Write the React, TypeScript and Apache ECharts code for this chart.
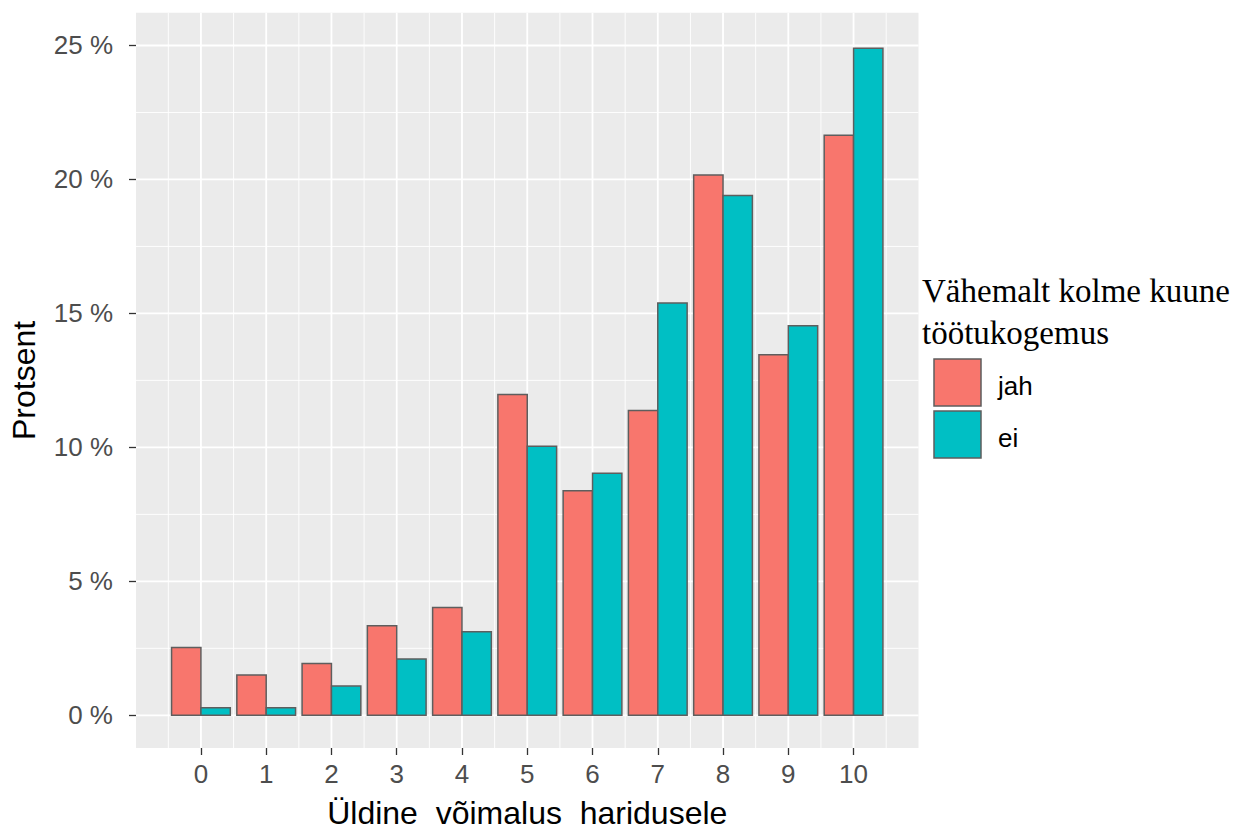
import React, { useEffect, useRef } from "react";
import * as echarts from "echarts";

const categories = [0, 1, 2, 3, 4, 5, 6, 7, 8, 9, 10];
const jah = [2.53, 1.5, 1.93, 3.34, 4.02, 11.97, 8.38, 11.38, 20.17, 13.46, 21.65];
const ei = [0.28, 0.28, 1.09, 2.1, 3.12, 10.04, 9.03, 15.39, 19.4, 14.54, 24.9];
const yTicks = [0, 5, 10, 15, 20, 25];
const yMinor = [2.5, 7.5, 12.5, 17.5, 22.5];
const xMinor = [-0.5, 0.5, 1.5, 2.5, 3.5, 4.5, 5.5, 6.5, 7.5, 8.5, 9.5, 10.5];
const seriesNames = ["jah", "ei"];
const colors = ["#F8766D", "#00BFC4"];
const legendTitle = ["Vähemalt kolme kuune", "töötukogemus"];

const X_MIN = -0.995;
const X_MAX = 10.995;
const Y_MIN = -1.22;
const Y_MAX = 26.22;

export default function App() {
  const ref = useRef<HTMLDivElement>(null);
  useEffect(() => {
    const chart = echarts.init(ref.current!, null, { renderer: "svg" });

    const gridData: number[][] = [];
    categories.forEach((c) => gridData.push([c, 0, 1]));
    xMinor.forEach((c) => gridData.push([c, 0, 0]));
    yTicks.forEach((v) => gridData.push([v, 1, 1]));
    yMinor.forEach((v) => gridData.push([v, 1, 0]));

    const gridSeries = {
      type: "custom",
      silent: true,
      z: 1,
      data: gridData,
      renderItem: (params: any, api: any) => {
        const v = api.value(0);
        const orient = api.value(1);
        const major = api.value(2);
        const cs = params.coordSys;
        let shape;
        if (orient === 0) {
          const p = api.coord([v, 0]);
          shape = { x1: p[0], y1: cs.y, x2: p[0], y2: cs.y + cs.height };
        } else {
          const p = api.coord([0, v]);
          shape = { x1: cs.x, y1: p[1], x2: cs.x + cs.width, y2: p[1] };
        }
        return {
          type: "line",
          shape,
          style: { stroke: "#FFFFFF", lineWidth: major ? 1.8 : 0.9 },
        };
      },
    };

    const barSeries = [jah, ei].map((vals, si) => ({
      type: "custom",
      name: seriesNames[si],
      z: 2,
      data: categories.map((c, i) => [c, vals[i]]),
      renderItem: (params: any, api: any) => {
        const xv = api.value(0);
        const yv = api.value(1);
        const off = si === 0 ? -0.45 : 0;
        const p0 = api.coord([xv + off, 0]);
        const p1 = api.coord([xv + off + 0.45, yv]);
        return {
          type: "rect",
          shape: { x: p0[0], y: p1[1], width: p1[0] - p0[0], height: p0[1] - p1[1] },
          style: { fill: colors[si], stroke: "#5E5E5E", lineWidth: 1.5 },
        };
      },
    }));

    const legendGraphics: any[] = [
      {
        type: "text",
        left: 922,
        top: 270,
        style: {
          text: legendTitle.join("\n"),
          font: '33px "Liberation Serif"',
          fill: "#000000",
          lineHeight: 42,
        },
      },
    ];
    seriesNames.forEach((n, i) => {
      legendGraphics.push({
        type: "rect",
        shape: { x: 934, y: 359 + i * 52, width: 47, height: 47 },
        style: { fill: colors[i], stroke: "#5E5E5E", lineWidth: 1.5 },
      });
      legendGraphics.push({
        type: "text",
        x: 998,
        y: 386 + i * 52,
        style: {
          text: n,
          font: '26px "Liberation Sans"',
          fill: "#000000",
          verticalAlign: "middle",
        },
      });
    });

    const tickStyle = { color: "#333333", width: 1.3 };

    chart.setOption({
      animation: false,
      backgroundColor: "#FFFFFF",
      grid: {
        left: 135.5,
        top: 12.8,
        width: 783,
        height: 740.1,
        show: true,
        backgroundColor: "#EBEBEB",
        borderWidth: 0,
      },
      xAxis: {
        type: "value",
        min: X_MIN,
        max: X_MAX,
        splitLine: { show: false },
        axisLine: { show: false, onZero: false },
        axisTick: {
          show: true,
          customValues: categories,
          length: 7,
          lineStyle: tickStyle,
        },
        axisLabel: {
          customValues: categories,
          fontSize: 26,
          fontFamily: "Liberation Sans",
          color: "#4D4D4D",
          margin: 13,
        },
        name: "Üldine  võimalus  haridusele",
        nameLocation: "middle",
        nameGap: 49,
        nameTextStyle: { fontSize: 32, fontFamily: "Liberation Sans", color: "#000000" },
      },
      yAxis: {
        type: "value",
        min: Y_MIN,
        max: Y_MAX,
        splitLine: { show: false },
        axisLine: { show: false, onZero: false },
        axisTick: {
          show: true,
          customValues: yTicks,
          length: 7,
          lineStyle: tickStyle,
        },
        axisLabel: {
          customValues: yTicks,
          fontSize: 26,
          fontFamily: "Liberation Sans",
          color: "#4D4D4D",
          margin: 23,
          formatter: (v: number) => `${v} %`,
        },
        name: "Protsent",
        nameLocation: "middle",
        nameRotate: 90,
        nameGap: 96,
        nameTextStyle: { fontSize: 32, fontFamily: "Liberation Sans", color: "#000000" },
      },
      graphic: legendGraphics,
      series: [gridSeries, ...barSeries],
    });
    return () => chart.dispose();
  }, []);
  return (
    <div
      ref={ref}
      style={{ position: "fixed", left: 0, top: 0, width: 1239, height: 834 }}
    />
  );
}
